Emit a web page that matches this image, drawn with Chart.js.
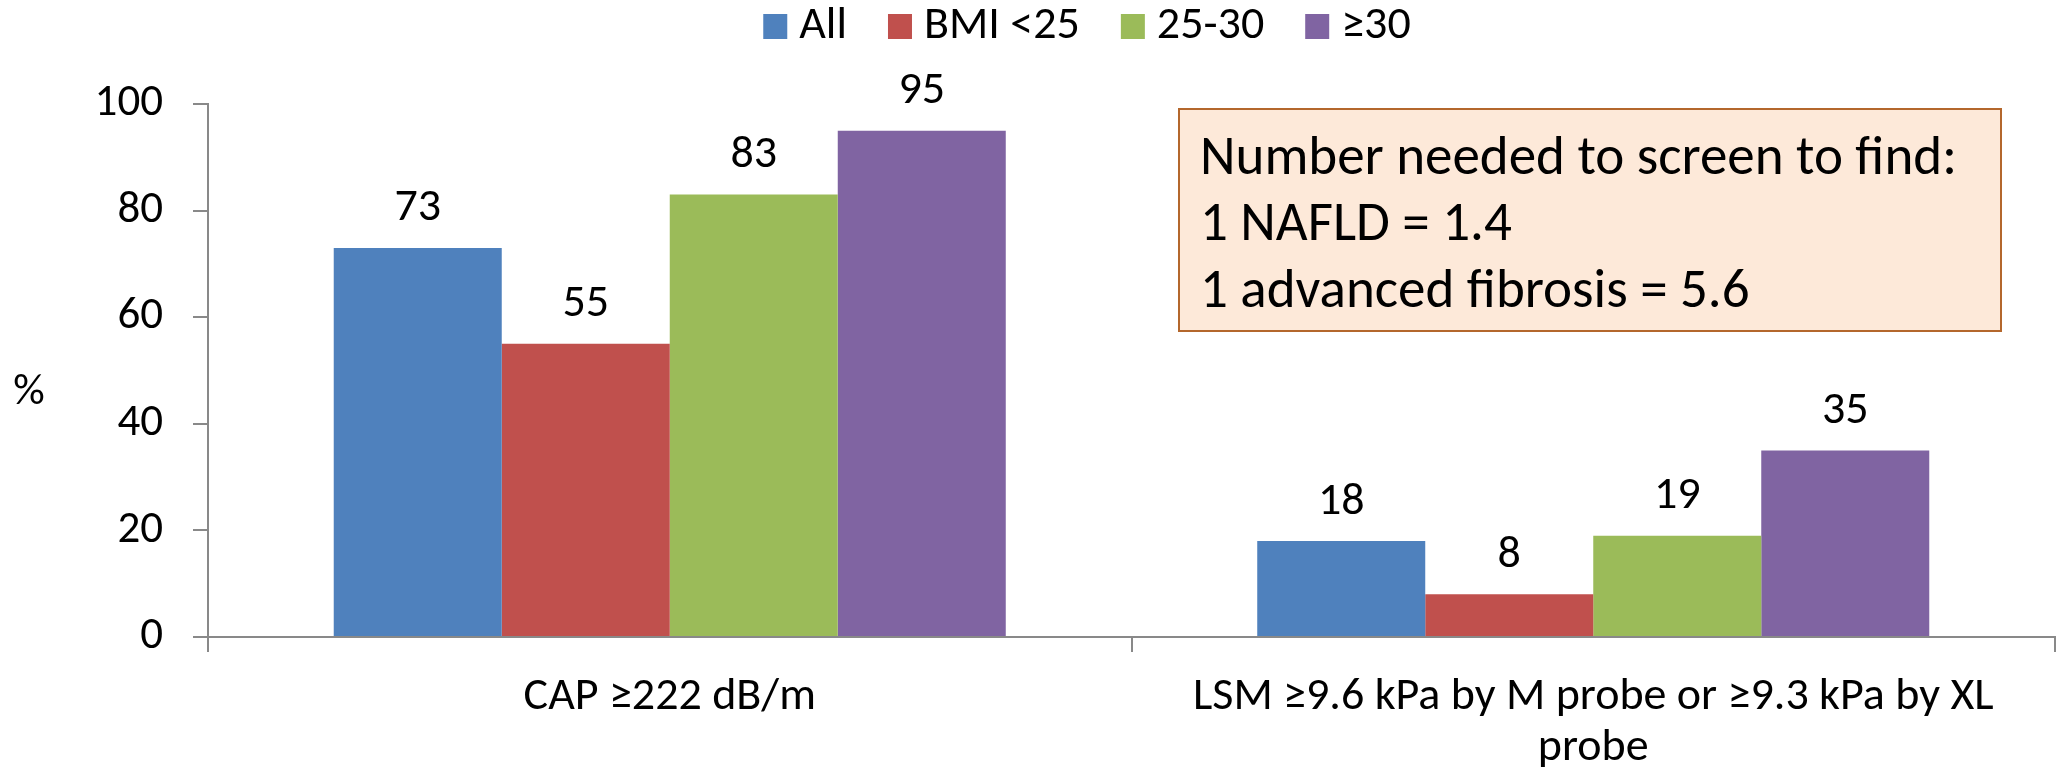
<!DOCTYPE html>
<html>
<head>
<meta charset="utf-8">
<script src="https://cdn.jsdelivr.net/npm/chart.js@4/dist/chart.umd.min.js"></script>
<style>
  html, body { margin: 0; padding: 0; background: #ffffff; }
  #wrap { width: 2062px; height: 775px; position: relative; }
</style>
</head>
<body>
<div id="wrap"><canvas id="chart" width="2062" height="775"></canvas></div>
<script>
// Categories along the x axis
const categories = [
  'CAP \u2265222 dB/m',
  ['LSM \u22659.6 kPa by M probe or \u22659.3 kPa by XL', 'probe']
];

// Series names (BMI groups)
const seriesNames = ['All', 'BMI <25', '25-30', '\u226530'];

// Percentages per group, one value per category
const allValues = [73, 18];
const bmiUnder25Values = [55, 8];
const bmi25to30Values = [83, 19];
const bmiOver30Values = [95, 35];

// Y-axis ticks
const yTicks = [0, 20, 40, 60, 80, 100];

// Annotation box lines
const noteLines = [
  'Number needed to screen to find:',
  '1 NAFLD = 1.4',
  '1 advanced fibrosis = 5.6'
];

const yTitle = '%';

const FONT = 'Carlito, Calibri, "Liberation Sans Narrow", "DejaVu Sans Condensed", sans-serif';
const colors = ['#4F81BD', '#C0504D', '#9BBB59', '#8064A2'];
const axisColor = '#898989';
const seriesValues = [allValues, bmiUnder25Values, bmi25to30Values, bmiOver30Values];

const datasets = seriesNames.map((name, i) => ({
  label: name,
  data: seriesValues[i],
  backgroundColor: colors[i],
  borderWidth: 0,
  barPercentage: 1.0,
  categoryPercentage: 0.7277
}));

// Value labels above each bar
const valueLabels = {
  id: 'valueLabels',
  afterDatasetsDraw(chart) {
    const ctx = chart.ctx;
    ctx.save();
    ctx.font = '46px ' + FONT;
    ctx.fillStyle = '#000';
    ctx.textAlign = 'center';
    ctx.textBaseline = 'middle';
    chart.data.datasets.forEach((ds, di) => {
      const meta = chart.getDatasetMeta(di);
      meta.data.forEach((bar, idx) => {
        ctx.fillText(String(ds.data[idx]), bar.x, bar.y - 39);
      });
    });
    ctx.restore();
  }
};

// Legend row at the top: colour square, small gap, series name
const topLegend = {
  id: 'topLegend',
  afterDraw(chart) {
    const ctx = chart.ctx;
    ctx.save();
    ctx.font = '46px ' + FONT;
    ctx.textBaseline = 'middle';
    ctx.textAlign = 'left';
    const box = 24, gap = 12, itemGap = 41, centerX = 1087, cy = 26;
    const items = chart.data.datasets.map(ds => ({ text: ds.label, color: ds.backgroundColor, w: ctx.measureText(ds.label).width }));
    const total = items.reduce((s, it) => s + box + gap + it.w, 0) + itemGap * (items.length - 1);
    let x = centerX - total / 2;
    items.forEach(it => {
      ctx.fillStyle = it.color;
      ctx.fillRect(x, cy - box / 2, box, box + 1);
      ctx.fillStyle = '#000';
      ctx.fillText(it.text, x + box + gap, cy);
      x += box + gap + it.w + itemGap;
    });
    ctx.restore();
  }
};

// Horizontal y-axis title plus the note box
const extras = {
  id: 'extras',
  afterDraw(chart) {
    const ctx = chart.ctx;
    ctx.save();
    ctx.font = '44px ' + FONT;
    ctx.fillStyle = '#000';
    ctx.textAlign = 'center';
    ctx.textBaseline = 'middle';
    ctx.fillText(yTitle, 29, 393);

    const bx = 1179, by = 109, bw = 822, bh = 222;
    ctx.fillStyle = '#FDE9D9';
    ctx.fillRect(bx, by, bw, bh);
    ctx.strokeStyle = '#B4672C';
    ctx.lineWidth = 2;
    ctx.strokeRect(bx, by, bw, bh);
    ctx.fillStyle = '#000';
    ctx.textAlign = 'left';
    ctx.textBaseline = 'alphabetic';
    ctx.font = '55px ' + FONT;
    const baselines = [174, 240, 307];
    noteLines.forEach((t, i) => ctx.fillText(t, 1200, baselines[i]));
    ctx.restore();
  }
};

new Chart(document.getElementById('chart'), {
  type: 'bar',
  data: { labels: categories, datasets },
  plugins: [valueLabels, topLegend, extras],
  options: {
    responsive: false,
    animation: false,
    layout: { padding: { left: 0, right: 7, top: 104, bottom: 0 } },
    plugins: {
      legend: { display: false },
      tooltip: { enabled: false }
    },
    scales: {
      y: {
        min: 0, max: 100,
        afterBuildTicks(scale) { scale.ticks = yTicks.map(v => ({ value: v })); },
        afterFit(scale) { scale.width = 208; },
        border: { display: true, color: axisColor, width: 2 },
        grid: { display: true, drawOnChartArea: false, drawTicks: true, tickLength: 15, color: axisColor, lineWidth: 2 },
        ticks: { font: { family: FONT, size: 45 }, color: '#000', padding: 30 }
      },
      x: {
        afterFit(scale) { scale.height = 775 - 637; },
        border: { display: true, color: axisColor, width: 2 },
        grid: { display: true, drawOnChartArea: false, drawTicks: true, tickLength: 15, color: axisColor, lineWidth: 2, offset: true },
        ticks: { font: { family: FONT, size: 46, lineHeight: 51 / 46 }, color: '#000', padding: 20, maxRotation: 0, autoSkip: false }
      }
    }
  }
});
</script>
</body>
</html>
